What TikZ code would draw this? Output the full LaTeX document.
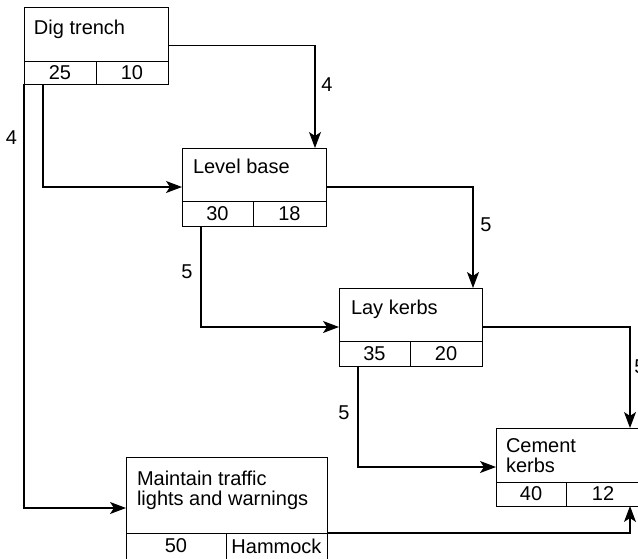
\documentclass[tikz,border=0pt]{standalone}
\usepackage{fontspec}
\setmainfont{Liberation Sans}
\usetikzlibrary{arrows.meta}
\begin{document}
\begin{tikzpicture}[x=1pt,y=-1pt,
  box/.style={draw, line width=1pt, inner sep=0pt, outer sep=0pt, rectangle},
  cell/.style={box, font=\fontsize{20}{20}\selectfont},
  lbl/.style={anchor=base west, inner sep=0pt, outer sep=0pt, align=left, font=\fontsize{20}{20}\selectfont},
  dur/.style={inner sep=0pt, font=\fontsize{20}{20}\selectfont},
  arr/.style={line width=1.1pt, -{Stealth[length=16pt,width=12pt,inset=4pt]}}]
\useasboundingbox (0,0) rectangle (638,558);
\clip (0,0) rectangle (638,558);
\fill[white] (0,0) rectangle (638,558);

% Dig trench
\node[box, minimum width=144pt, minimum height=77pt] (dig) at (96,45.5) {};
\node[cell, minimum width=72pt, minimum height=23pt] (dig-a) at (60,72.5) {25};
\node[cell, minimum width=72pt, minimum height=23pt] (dig-b) at (132,72.5) {10};
\node[lbl] (dig-l) at (34,34) {Dig trench};

% Level base
\node[box, minimum width=144pt, minimum height=78pt] (level) at (254,187) {};
\node[cell, minimum width=71pt, minimum height=25pt] (level-a) at (217.5,213.5) {30};
\node[cell, minimum width=73pt, minimum height=25pt] (level-b) at (289.5,213.5) {18};
\node[lbl] (level-l) at (193,173) {Level base};

% Lay kerbs
\node[box, minimum width=143pt, minimum height=78pt] (lay) at (410.5,327) {};
\node[cell, minimum width=71pt, minimum height=25pt] (lay-a) at (374.5,353.5) {35};
\node[cell, minimum width=72pt, minimum height=25pt] (lay-b) at (446,353.5) {20};
\node[lbl] (lay-l) at (351,314) {Lay kerbs};

% Cement kerbs
\node[box, minimum width=144pt, minimum height=78pt] (cem) at (568,467) {};
\node[cell, minimum width=70pt, minimum height=24pt] (cem-a) at (531,494) {40};
\node[cell, minimum width=74pt, minimum height=24pt] (cem-b) at (603,494) {12};
\node[lbl] (cem-l) at (506,472) {Cement\\kerbs};

% Maintain traffic lights and warnings
\node[box, minimum width=201pt, minimum height=102pt] (maint) at (226.5,508) {};
\node[cell, minimum width=100pt, minimum height=26pt] (maint-a) at (176,546) {50};
\node[cell, minimum width=101pt, minimum height=26pt] (maint-b) at (276.5,546) {Hammock};
\node[lbl] (maint-l) at (137,505) {Maintain traffic\\lights and warnings};

% Connectors
\draw[arr] (dig.east) -| ([xshift=-11pt]level.north east);
\draw[arr] ([xshift=19pt]dig.south west) |- (level.west);
\draw[arr] (dig.south west) |- (maint.west);
\draw[arr] (level.east) -| ([xshift=-9pt]lay.north east);
\draw[arr] ([xshift=19pt]level.south west) |- (lay.west);
\draw[arr] (lay.east) -| ([xshift=-10pt]cem.north east);
\draw[arr] ([xshift=19pt]lay.south west) |- (cem.west);
\draw[arr] (maint-b.north east) -| ([xshift=-10pt]cem.south east);

% Durations
\node[dur] (d1) at (327,85) {4};
\node[dur] (d2) at (11.5,138) {4};
\node[dur] (d3) at (486,225) {5};
\node[dur] (d4) at (187,272) {5};
\node[dur] (d5) at (344,413) {5};
\node[dur] (d6) at (640,367) {5};
\end{tikzpicture}
\end{document}
